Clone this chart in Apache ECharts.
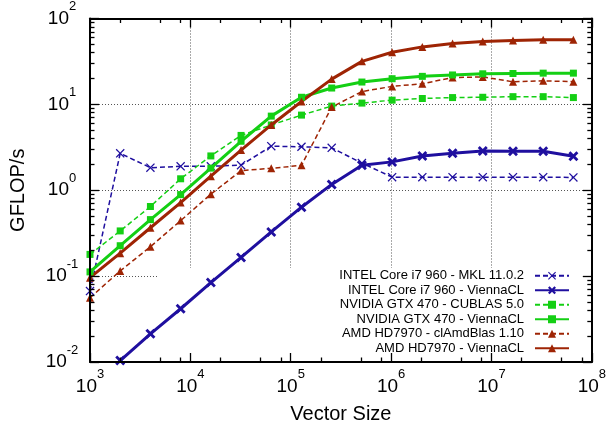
<!DOCTYPE html>
<html>
<head>
<meta charset="utf-8">
<title>Vector addition performance</title>
<script src="https://cdn.jsdelivr.net/npm/echarts@6/dist/echarts.min.js"></script>
<style>
  html, body { margin: 0; padding: 0; background: #fff; }
  #chart { width: 609px; height: 431px; }
</style>
</head>
<body>
<div id="chart"></div>
<script>
// Vector sizes (x) and measured throughput in GFLOP/s (y)
const vectorSizes = [1000, 2000, 4000, 8000, 16000, 32000, 64000, 128000, 256000, 512000,
  1024000, 2048000, 4096000, 8192000, 16384000, 32768000, 65536000];

const intelMkl   = [0.067, 2.69, 1.83, 1.90, 1.90, 1.96, 3.26, 3.21, 3.12, 2.07, 1.42, 1.42, 1.42, 1.42, 1.42, 1.42, 1.41];
const intelVcl   = [null, 0.0104, 0.0213, 0.0417, 0.0841, 0.165, 0.327, 0.635, 1.17, 1.95, 2.14, 2.51, 2.69, 2.86, 2.84, 2.84, 2.49];
const nvCublas   = [0.179, 0.336, 0.647, 1.36, 2.51, 4.35, 5.76, 7.5, 9.55, 10.35, 11.2, 11.7, 12.0, 12.1, 12.3, 12.3, 12.0];
const nvVcl      = [0.112, 0.226, 0.455, 0.89, 1.81, 3.72, 7.3, 12.1, 15.5, 18.2, 19.9, 21.2, 22.0, 22.7, 22.9, 23.1, 23.1];
const amdBlas    = [0.056, 0.115, 0.22, 0.443, 0.90, 1.69, 1.80, 1.95, 9.3, 14.1, 16.2, 17.4, 20.5, 20.9, 18.3, 18.8, 18.4];
const amdVcl     = [0.096, 0.185, 0.366, 0.718, 1.46, 2.94, 5.76, 10.8, 19.7, 31.7, 40.5, 46.7, 51.3, 54.1, 55.6, 56.6, 56.6];

const seriesNames = [
  'INTEL Core i7 960 - MKL 11.0.2',
  'INTEL Core i7 960 - ViennaCL',
  'NVIDIA GTX 470 - CUBLAS 5.0',
  'NVIDIA GTX 470 - ViennaCL',
  'AMD HD7970 - clAmdBlas 1.10',
  'AMD HD7970 - ViennaCL'
];

// Tick positions
const xDecades = [1e3, 1e4, 1e5, 1e6, 1e7, 1e8];
const yDecades = [1e-2, 1e-1, 1e0, 1e1, 1e2];
const xMinorSteps = [2, 5, 8];
const yMinorSteps = [2, 3, 4, 5, 6, 7, 8, 9];

function minorTicks(decades, steps) {
  const out = [];
  for (let i = 0; i < decades.length - 1; i++) {
    for (const s of steps) out.push(+(decades[i] * s).toPrecision(6));
  }
  return out;
}
const xMinor = minorTicks(xDecades, xMinorSteps);
const yMinor = minorTicks(yDecades, yMinorSteps);

const FONT = '"Liberation Sans", Arial, Helvetica, sans-serif';
const BLUE = '#1f0f9f';
const GREEN = '#14cf14';
const RED = '#9e2404';

const crossThin = 'path://M1,0L5,4L9,0L10,1L6,5L10,9L9,10L5,6L1,10L0,9L4,5L0,1Z';
const crossBold = 'path://M2,0L5,3L8,0L10,2L7,5L10,8L8,10L5,7L2,10L0,8L3,5L0,2Z';

function pairs(values) {
  const out = [];
  values.forEach((v, i) => { if (v != null) out.push([vectorSizes[i], v]); });
  return out;
}

function powerLabel(value) {
  const e = Math.round(Math.log10(value));
  return '{b|10}{s|' + e + '}';
}

const labelRich = {
  b: { fontSize: 19, fontFamily: FONT, color: '#000', lineHeight: 28, verticalAlign: 'bottom' },
  s: { fontSize: 13, fontFamily: FONT, color: '#000', lineHeight: 14, verticalAlign: 'top' }
};

const frameLine = { show: true, onZero: false, lineStyle: { color: '#000', width: 2 } };
const tickStyle = { color: '#000', width: 1.3 };

function xAxisDef(pos, opts) {
  return Object.assign({
    type: 'log', logBase: 10, min: 1e3, max: 1e8, position: pos, gridIndex: 0,
    axisLine: { show: false, onZero: false },
    axisTick: { show: false },
    axisLabel: { show: false },
    splitLine: { show: false },
    z: 3
  }, opts);
}
function yAxisDef(pos, opts) {
  return Object.assign({
    type: 'log', logBase: 10, min: 1e-2, max: 1e2, position: pos, gridIndex: 0,
    axisLine: { show: false, onZero: false },
    axisTick: { show: false },
    axisLabel: { show: false },
    splitLine: { show: false },
    z: 3
  }, opts);
}

const gridLine = { show: true, lineStyle: { color: '#555', width: 1, type: [1, 2] } };

const xAxes = [
  // dotted grid
  xAxisDef('bottom', { z: 0, axisTick: { show: false, customValues: xDecades }, splitLine: gridLine }),
  // bottom frame, major ticks and labels
  xAxisDef('bottom', {
    axisLine: frameLine,
    axisTick: { show: true, inside: true, length: 9, lineStyle: tickStyle, customValues: xDecades },
    axisLabel: { show: true, customValues: xDecades, margin: 6, formatter: powerLabel, rich: labelRich },
    name: 'Vector Size', nameLocation: 'middle', nameGap: 42,
    nameTextStyle: { fontSize: 20, fontFamily: FONT, color: '#000' }
  }),
  xAxisDef('bottom', { axisTick: { show: true, inside: true, length: 4.5, lineStyle: tickStyle, customValues: xMinor } }),
  // top frame
  xAxisDef('top', { axisLine: frameLine, axisTick: { show: true, inside: true, length: 9, lineStyle: tickStyle, customValues: xDecades } }),
  xAxisDef('top', { axisTick: { show: true, inside: true, length: 4.5, lineStyle: tickStyle, customValues: xMinor } })
];

const yAxes = [
  yAxisDef('left', { z: 0, axisTick: { show: false, customValues: yDecades }, splitLine: gridLine }),
  yAxisDef('left', {
    axisLine: frameLine,
    axisTick: { show: true, inside: true, length: 9, lineStyle: tickStyle, customValues: yDecades },
    axisLabel: { show: true, customValues: yDecades, margin: 28, align: 'center', padding: [0, 0, 9, 0], formatter: powerLabel, rich: labelRich },
    name: 'GFLOP/s', nameLocation: 'middle', nameGap: 62,
    nameTextStyle: { fontSize: 20, fontFamily: FONT, color: '#000' }
  }),
  yAxisDef('left', { axisTick: { show: true, inside: true, length: 4.5, lineStyle: tickStyle, customValues: yMinor } }),
  yAxisDef('right', { axisLine: frameLine, axisTick: { show: true, inside: true, length: 9, lineStyle: tickStyle, customValues: yDecades } }),
  yAxisDef('right', { axisTick: { show: true, inside: true, length: 4.5, lineStyle: tickStyle, customValues: yMinor } })
];

function lineSeries(name, values, color, dashed, symbol, size) {
  return {
    name: name,
    type: 'line',
    xAxisIndex: 0,
    yAxisIndex: 0,
    data: pairs(values),
    symbol: symbol,
    symbolSize: size,
    showSymbol: true,
    showAllSymbol: true,
    itemStyle: { color: color },
    lineStyle: { color: color, width: dashed ? 1.5 : 3, type: dashed ? [5, 3] : 'solid' },
    emphasis: { disabled: true },
    z: dashed ? 2 : 2.5
  };
}

const chart = echarts.init(document.getElementById('chart'), null, { renderer: 'canvas' });
chart.setOption({
  animation: false,
  backgroundColor: '#fff',
  grid: { left: 89, right: 15, top: 11.5, bottom: 69, containLabel: false },
  xAxis: xAxes,
  yAxis: yAxes,
  // key area: keeps the dotted grid out from behind the legend
  graphic: [{
    type: 'rect', z: 1, silent: true,
    shape: { x: 157, y: 268, width: 436, height: 93 },
    style: { fill: '#fff' }
  }],
  legend: {
    orient: 'vertical', align: 'right',
    right: 39, top: 268.5, padding: 0,
    itemWidth: 34, itemHeight: 10, itemGap: 0,
    textStyle: { fontSize: 13, fontFamily: FONT, color: '#000', lineHeight: 14.5, padding: [0, 6, 0, 0] },
    data: seriesNames
  },
  series: [
    lineSeries(seriesNames[0], intelMkl, BLUE, true, crossThin, 9),
    lineSeries(seriesNames[1], intelVcl, BLUE, false, crossBold, 10),
    lineSeries(seriesNames[2], nvCublas, GREEN, true, 'rect', 7),
    lineSeries(seriesNames[3], nvVcl, GREEN, false, 'rect', 7),
    lineSeries(seriesNames[4], amdBlas, RED, true, 'triangle', 8),
    lineSeries(seriesNames[5], amdVcl, RED, false, 'triangle', 8)
  ]
});
</script>
</body>
</html>
